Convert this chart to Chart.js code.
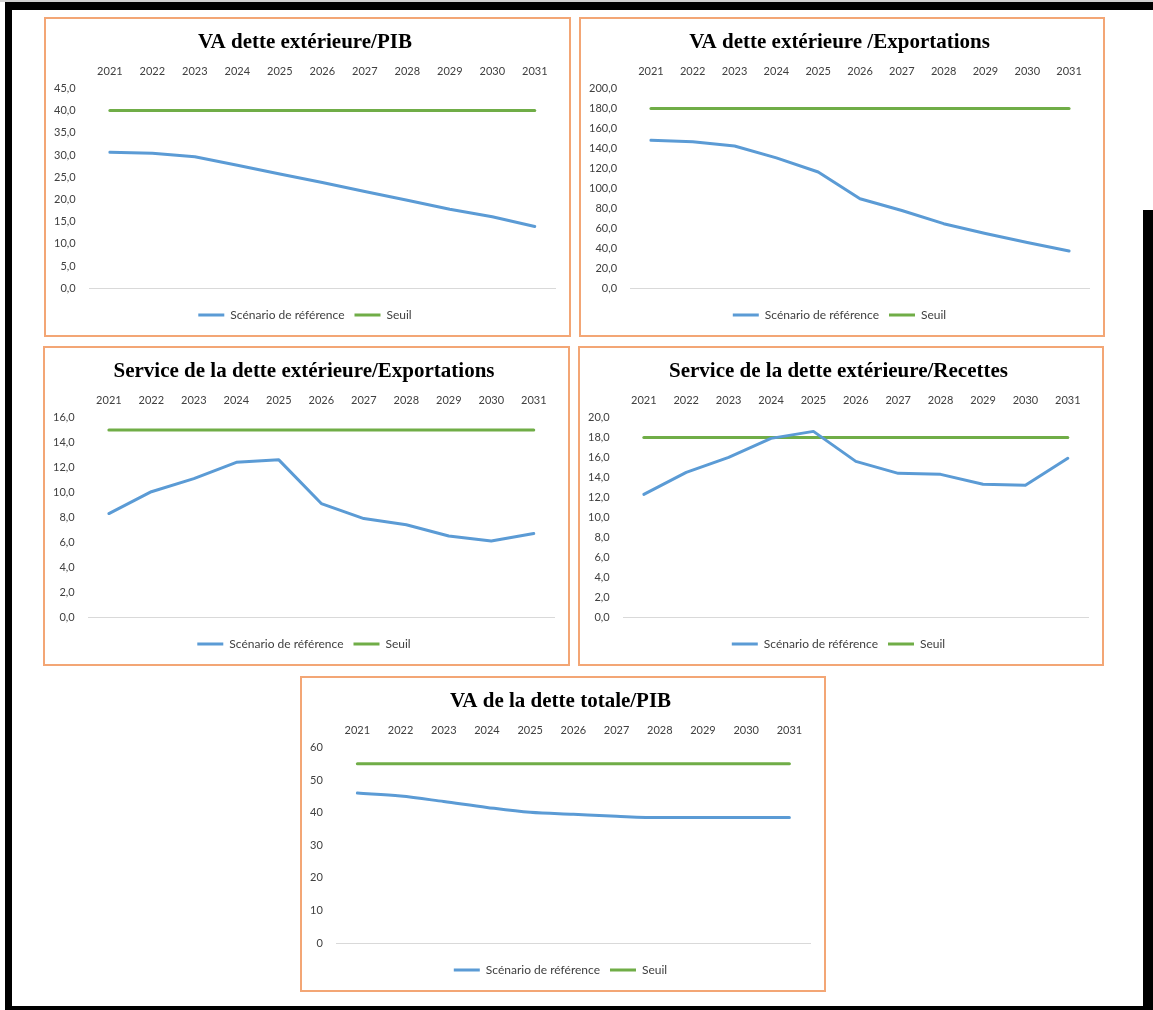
<!DOCTYPE html>
<html>
<head>
<meta charset="utf-8">
<script src="https://cdn.jsdelivr.net/npm/chart.js@4.4.1/dist/chart.umd.min.js"></script>
<style>
  html, body { margin: 0; padding: 0; background: #fff; }
  body { width: 1153px; height: 1010px; position: relative; overflow: hidden; }
  .frame { position: absolute; background: #000; }
  .panel { position: absolute; box-sizing: border-box; border: 2px solid #F3A675; background: #fff; }
  .panel canvas { display: block; }
</style>
</head>
<body>
<div class="frame" style="left:0;top:0;width:1153px;height:2px;background:#d0d0d0"></div>
<div class="frame" style="left:5px;top:2px;width:1148px;height:8px;border-top-left-radius:6px"></div>
<div class="frame" style="left:5px;top:2px;width:7px;height:1008px"></div>
<div class="frame" style="left:5px;top:1006px;width:1148px;height:4px"></div>
<div class="frame" style="left:1143px;top:210px;width:10px;height:800px"></div>

<div class="panel" style="left:44px;top:17px;width:527px;height:320px"><canvas id="c1" width="523" height="316"></canvas></div>
<div class="panel" style="left:579px;top:17px;width:526px;height:320px"><canvas id="c2" width="522" height="316"></canvas></div>
<div class="panel" style="left:43px;top:346px;width:527px;height:320px"><canvas id="c3" width="523" height="316"></canvas></div>
<div class="panel" style="left:578px;top:346px;width:526px;height:320px"><canvas id="c4" width="522" height="316"></canvas></div>
<div class="panel" style="left:300px;top:676px;width:526px;height:316px"><canvas id="c5" width="522" height="312"></canvas></div>

<script>
const years = ["2021", "2022", "2023", "2024", "2025", "2026", "2027", "2028", "2029", "2030", "2031"];
const seriesLabels = ["Scénario de référence", "Seuil"];

// VA dette extérieure/PIB
const vaDetteExtPib = [30.6, 30.4, 29.6, 27.7, 25.7, 23.8, 21.8, 19.8, 17.8, 16.1, 13.9];
const seuilVaDetteExtPib = [40, 40, 40, 40, 40, 40, 40, 40, 40, 40, 40];

// VA dette extérieure/Exportations
const vaDetteExtExport = [148.0, 146.6, 142.3, 130.4, 116.3, 89.6, 77.8, 64.6, 54.8, 45.8, 37.3];
const seuilVaDetteExtExport = [180, 180, 180, 180, 180, 180, 180, 180, 180, 180, 180];

// Service de la dette extérieure/Exportations
const serviceExport = [8.3, 10.05, 11.1, 12.4, 12.6, 9.1, 7.9, 7.4, 6.5, 6.1, 6.7];
const seuilServiceExport = [15, 15, 15, 15, 15, 15, 15, 15, 15, 15, 15];

// Service de la dette extérieure/Recettes
const serviceRecettes = [12.3, 14.5, 16.0, 17.9, 18.6, 15.6, 14.4, 14.3, 13.3, 13.2, 15.9];
const seuilServiceRecettes = [18, 18, 18, 18, 18, 18, 18, 18, 18, 18, 18];

// VA de la dette totale/PIB
const vaDetteTotalePib = [46.0, 45.1, 43.4, 41.6, 40.1, 39.5, 38.9, 38.5, 38.5, 38.5, 38.5];
const seuilVaDetteTotalePib = [55, 55, 55, 55, 55, 55, 55, 55, 55, 55, 55];

const BLUE = "#5B9BD5";
const GREEN = "#70AD47";
const TEXT = "#404040";

function makeChart(id, title, values, seuil, yMax, yStep, decimals, smooth) {
    const ctx = document.getElementById(id).getContext("2d");
    return new Chart(ctx, {
        type: "line",
        data: {
            labels: years,
            datasets: [
                {
                    label: seriesLabels[0],
                    data: values,
                    borderColor: BLUE,
                    backgroundColor: BLUE,
                    borderWidth: 3,
                    pointRadius: 0,
                    borderCapStyle: "round",
                    borderJoinStyle: "round",
                    cubicInterpolationMode: smooth ? "monotone" : "default",
                    tension: 0,
                },
                {
                    label: seriesLabels[1],
                    data: seuil,
                    borderColor: GREEN,
                    backgroundColor: GREEN,
                    borderWidth: 3,
                    pointRadius: 0,
                    borderCapStyle: "round",
                },
            ],
        },
        options: {
            responsive: false,
            animation: false,
            layout: { padding: { left: 8, right: 13, top: 0, bottom: 4 } },
            scales: {
                x: {
                    position: "top",
                    offset: true,
                    grid: { display: false, drawTicks: false, tickLength: 0 },
                    border: { display: false },
                    ticks: {
                        color: TEXT,
                        padding: 10,
                        maxRotation: 0,
                        autoSkip: false,
                        font: { family: "Lato", size: 11 },
                    },
                },
                y: {
                    min: 0,
                    max: yMax,
                    border: { display: false },
                    grid: {
                        drawTicks: false,
                        tickLength: 0,
                        color: (c) => (c.tick && c.tick.value === 0 ? "#D9D9D9" : "rgba(0,0,0,0)"),
                        lineWidth: 1,
                    },
                    ticks: {
                        stepSize: yStep,
                        color: TEXT,
                        padding: 13,
                        font: { family: "Lato", size: 11 },
                        callback: (v) => v.toFixed(decimals).replace(".", ","),
                    },
                    afterFit: (scale) => {
                        scale.width = scale.width - 13;
                    },
                },
            },
            plugins: {
                title: {
                    display: true,
                    text: title,
                    color: "#000",
                    font: { family: "Liberation Serif", size: 21, weight: "bold" },
                    padding: { top: 11, bottom: 0 },
                },
                legend: {
                    position: "bottom",
                    title: { display: true, text: "", padding: 0, font: { size: 9 } },
                    labels: {
                        usePointStyle: true,
                        pointStyle: "line",
                        pointStyleWidth: 26,
                        padding: 10,
                        color: TEXT,
                        font: { family: "Lato", size: 12 },
                    },
                },
                tooltip: { enabled: false },
            },
        },
    });
}

makeChart("c1", "VA dette extérieure/PIB", vaDetteExtPib, seuilVaDetteExtPib, 45, 5, 1, false);
makeChart("c2", "VA dette extérieure /Exportations", vaDetteExtExport, seuilVaDetteExtExport, 200, 20, 1, false);
makeChart("c3", "Service de la dette extérieure/Exportations", serviceExport, seuilServiceExport, 16, 2, 1, false);
makeChart("c4", "Service de la dette extérieure/Recettes", serviceRecettes, seuilServiceRecettes, 20, 2, 1, false);
makeChart("c5", "VA de la dette totale/PIB", vaDetteTotalePib, seuilVaDetteTotalePib, 60, 10, 0, true);
</script>
</body>
</html>
